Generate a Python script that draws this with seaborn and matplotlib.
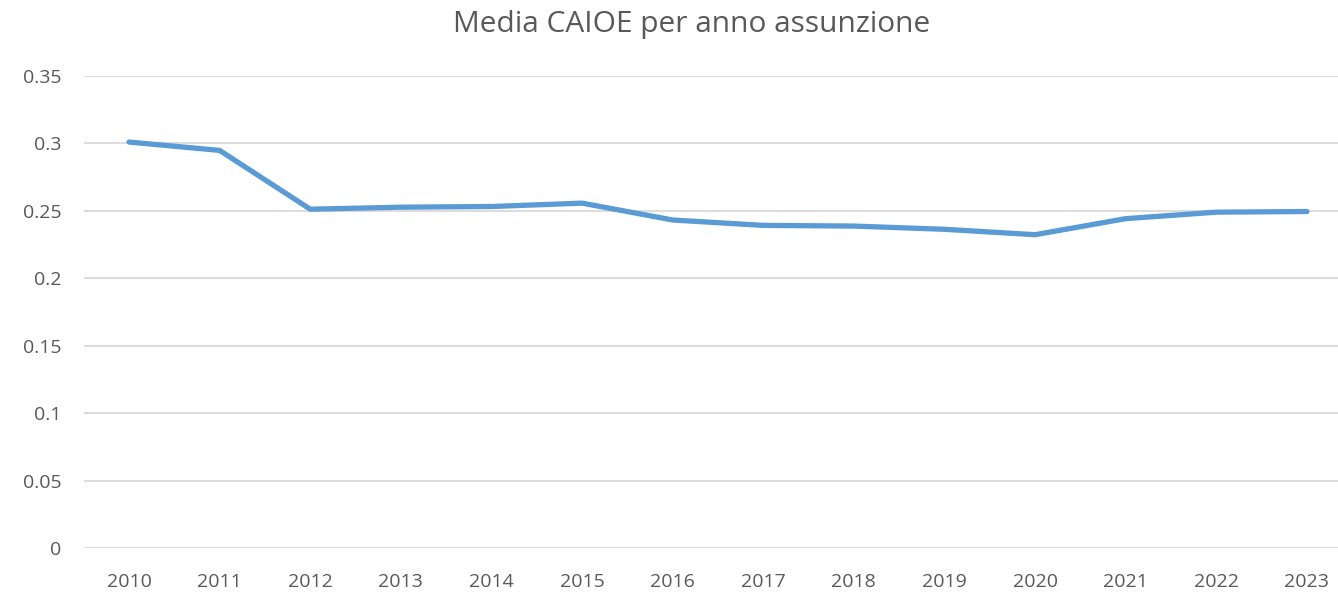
import matplotlib
matplotlib.use("Agg")
import matplotlib.pyplot as plt
import seaborn as sns
import pandas as pd

# Data
anni = ["2010", "2011", "2012", "2013", "2014", "2015", "2016",
        "2017", "2018", "2019", "2020", "2021", "2022", "2023"]
media_caioe = [0.301, 0.2948, 0.2512, 0.2527, 0.2532, 0.2557, 0.2432,
               0.2392, 0.2387, 0.2363, 0.2323, 0.2442, 0.2490, 0.2495]
y_ticks = [0, 0.05, 0.1, 0.15, 0.2, 0.25, 0.3, 0.35]
y_labels = ["0", "0.05", "0.1", "0.15", "0.2", "0.25", "0.3", "0.35"]

df = pd.DataFrame({"anno": anni, "media": media_caioe})

sns.set_style("white")
plt.rcParams['font.family'] = ['Open Sans', 'DejaVu Sans']

fig = plt.figure(figsize=(13.38, 5.93), dpi=100)
ax = fig.add_axes([0.0626, 0.0759, 0.948, 0.796])

sns.lineplot(data=df, x="anno", y="media", ax=ax, color="#5B9BD5",
             linewidth=3.8, solid_capstyle="round", solid_joinstyle="round")

ax.set_xlim(-0.5, len(anni) - 0.5)
ax.set_ylim(0, 0.35)
ax.set_yticks(y_ticks)
ax.set_yticklabels(y_labels)
ax.grid(axis="y", color="#D9D9D9", linewidth=1.3)
ax.set_axisbelow(True)
for s in ax.spines.values():
    s.set_visible(False)
ax.tick_params(axis="both", length=0, labelsize=14, colors="#595959")
ax.tick_params(axis="x", pad=18)
ax.tick_params(axis="y", pad=16)
ax.set_xlabel("")
ax.set_ylabel("")
fig.suptitle("Media CAIOE per anno assunzione", x=0.517, y=0.958, va="center",
             fontsize=21.5, color="#595959")

fig.savefig("out.png", dpi=100)
